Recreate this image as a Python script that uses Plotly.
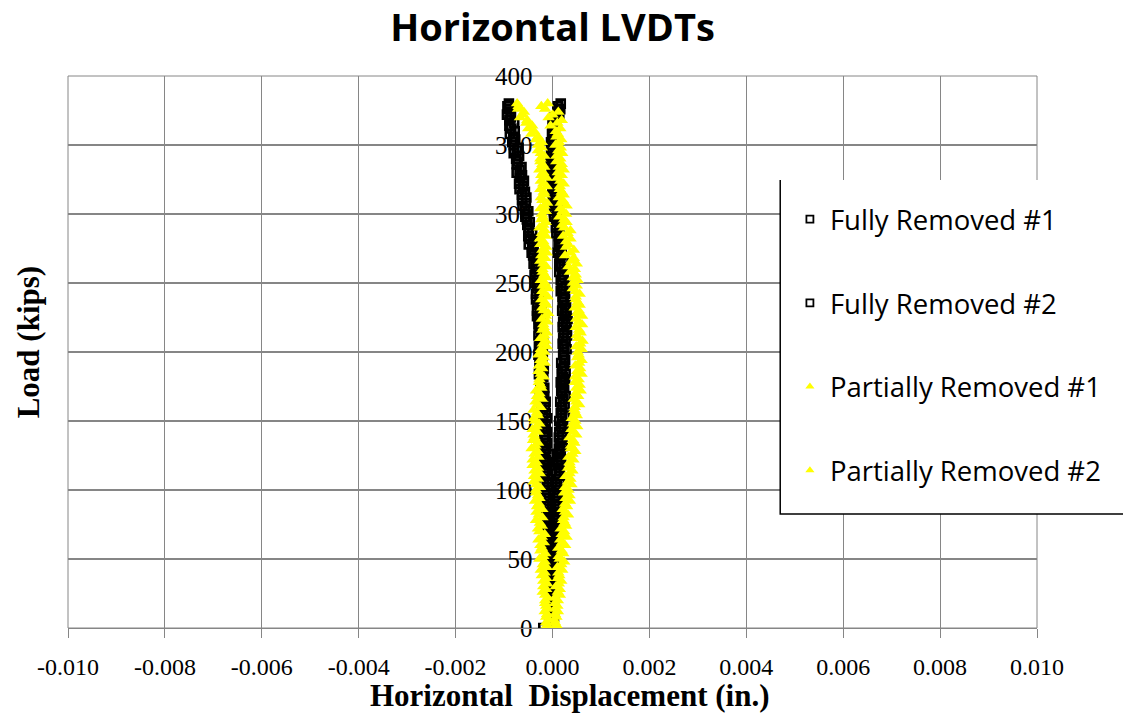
import numpy as np
import plotly.graph_objects as go

# Applied load levels (kips), shared by all four LVDT records
load_kips = [
    0, 2, 4, 6, 8, 10, 12, 14, 16, 18,
    20, 22, 24, 26, 28, 30, 32, 34, 36, 38,
    40, 42, 44, 46, 48, 50, 52, 54, 56, 58,
    60, 62, 64, 66, 68, 70, 72, 74, 76, 78,
    80, 82, 84, 86, 88, 90, 92, 94, 96, 98,
    100, 102, 104, 106, 108, 110, 112, 114, 116, 118,
    120, 122, 124, 126, 128, 130, 132, 134, 136, 138,
    140, 142, 144, 146, 148, 150, 152, 154, 156, 158,
    160, 162, 164, 166, 168, 170, 172, 174, 176, 178,
    180, 182, 184, 186, 188, 190, 192, 194, 196, 198,
    200, 202, 204, 206, 208, 210, 212, 214, 216, 218,
    220, 222, 224, 226, 228, 230, 232, 234, 236, 238,
    240, 242, 244, 246, 248, 250, 252, 254, 256, 258,
    260, 262, 264, 266, 268, 270, 272, 274, 276, 278,
    280, 282, 284, 286, 288, 290, 292, 294, 296, 298,
    300, 302, 304, 306, 308, 310, 312, 314, 316, 318,
    320, 322, 324, 326, 328, 330, 332, 334, 336, 338,
    340, 342, 344, 346, 348, 350, 352, 354, 356, 358,
    360, 362, 364, 366, 368, 370, 372, 374, 376, 378,
    380,
]

# Horizontal displacement readings, in units of 1e-4 in.
fully_removed_1 = [
    -1.9, -0.6, -0.2, -0.5, -0.3, -0.7, -0.4, -0.2, -0.6, -0.4,
    -0.5, -0.2, -0.6, -0.3, -0.1, -0.5, -0.6, -0.3, -0.4, -0.7,
    -0.1, -0.5, -0.7, -0.1, -0.6, -0.4, -0.8, -0.3, -0.5, -0.7,
    -0.7, -0.2, -0.7, -1.1, -0.6, -1.1, -0.4, -1.0, -0.6, -1.4,
    -0.8, -1.5, -0.6, -1.2, -0.8, -1.7, -1.1, -0.8, -1.5, -1.3,
    -1.5, -0.9, -1.8, -1.2, -0.8, -1.5, -1.7, -1.1, -1.3, -1.8,
    -0.9, -1.4, -1.7, -0.8, -1.6, -1.3, -1.9, -1.1, -1.4, -1.7,
    -1.6, -1.1, -1.6, -2.0, -1.4, -2.0, -1.1, -1.9, -1.4, -2.3,
    -1.6, -2.3, -1.4, -2.1, -1.7, -2.6, -2.0, -1.7, -2.5, -2.3,
    -2.5, -1.9, -2.8, -2.2, -1.8, -2.5, -2.7, -2.1, -2.4, -2.9,
    -2.0, -2.5, -2.8, -1.9, -2.6, -2.3, -2.9, -2.2, -2.4, -2.7,
    -2.9, -2.3, -2.8, -3.2, -2.6, -3.2, -2.3, -3.1, -2.5, -3.4,
    -2.7, -3.4, -2.5, -3.2, -2.8, -3.7, -3.2, -2.9, -3.7, -3.5,
    -3.4, -3.0, -3.9, -3.5, -3.2, -4.0, -4.3, -3.9, -4.2, -4.9,
    -4.0, -4.7, -5.0, -4.2, -4.9, -4.9, -5.2, -4.7, -5.3, -5.6,
    -5.6, -5.0, -5.7, -6.2, -5.5, -6.3, -5.4, -6.3, -5.7, -6.8,
    -6.1, -6.9, -5.9, -6.7, -6.3, -7.4, -6.8, -6.4, -7.4, -7.2,
    -7.5, -6.9, -8.0, -7.4, -7.0, -8.0, -8.3, -7.7, -8.1, -8.8,
    -7.8, -8.5, -8.9, -7.9, -8.9, -8.6, -9.4, -8.6, -9.0, -9.3,
    -9.0,
]
fully_removed_2 = [
    -0.1, 0.2, -0.2, 0.1, 0.3, 0.0, -0.1, 0.2, 0.1, -0.2,
    0.3, 0.1, -0.1, 0.4, 0.0, 0.2, -0.1, 0.3, 0.1, 0.0,
    0.0, 0.4, 0.1, -0.1, 0.3, 0.0, 0.5, 0.1, 0.4, 0.0,
    0.5, 0.0, 0.8, 0.3, 0.7, 0.0, 0.5, 0.9, 0.3, 0.5,
    0.4, 1.0, 0.2, 0.8, 1.3, 0.6, 0.5, 1.1, 0.9, 0.4,
    1.4, 1.0, 0.7, 1.6, 0.9, 1.3, 0.7, 1.5, 1.3, 1.1,
    1.2, 1.8, 1.4, 1.0, 1.7, 1.3, 2.1, 1.5, 2.0, 1.3,
    2.0, 1.4, 2.3, 1.7, 2.2, 1.4, 2.0, 2.6, 1.7, 2.0,
    1.9, 2.5, 1.6, 2.2, 2.7, 2.0, 1.8, 2.4, 2.2, 1.7,
    2.6, 2.2, 1.9, 2.7, 2.0, 2.4, 1.8, 2.6, 2.4, 2.2,
    2.3, 2.9, 2.4, 2.1, 2.7, 2.2, 3.0, 2.3, 2.9, 2.1,
    2.8, 2.2, 3.1, 2.5, 2.9, 2.0, 2.5, 2.8, 2.1, 2.3,
    2.1, 2.6, 1.7, 2.2, 2.7, 1.9, 1.7, 2.3, 2.0, 1.4,
    2.3, 1.8, 1.4, 2.3, 1.5, 1.8, 1.1, 1.9, 1.6, 1.3,
    1.3, 1.8, 1.3, 0.8, 1.4, 0.7, 1.5, 0.8, 1.2, 0.3,
    0.9, 0.3, 1.0, 0.5, 0.8, 0.0, 0.5, 0.7, 0.0, 0.2,
    0.0, 0.5, -0.2, 0.2, 0.6, 0.0, -0.2, 0.1, 0.0, -0.4,
    0.4, 0.0, -0.3, 0.5, -0.2, 0.2, -0.3, 0.3, 0.1, -0.1,
    0.0, 0.5, 0.2, 0.0, 0.7, 0.5, 1.4, 1.0, 1.6, 1.1,
    1.7,
]
partially_removed_1 = [
    -0.7, -1.1, -1.3, -0.8, -1.3, -1.1, -1.6, -1.1, -1.3, -1.5,
    -1.5, -1.0, -1.5, -2.0, -1.3, -1.9, -1.1, -1.9, -1.3, -2.2,
    -1.6, -2.4, -1.2, -2.0, -1.6, -2.7, -1.9, -1.5, -2.5, -2.2,
    -2.5, -1.8, -2.9, -2.2, -1.6, -2.7, -3.0, -2.2, -2.6, -3.4,
    -2.1, -2.8, -3.3, -2.1, -3.2, -2.8, -3.6, -2.7, -3.0, -3.4,
    -3.4, -2.6, -3.3, -3.9, -3.0, -3.8, -2.6, -3.7, -3.0, -4.1,
    -3.3, -4.1, -2.9, -3.7, -3.1, -4.3, -3.5, -3.0, -4.0, -3.7,
    -3.9, -3.1, -4.1, -3.3, -2.7, -3.6, -3.8, -3.0, -3.2, -3.9,
    -2.5, -3.1, -3.5, -2.2, -3.2, -2.7, -3.4, -2.3, -2.5, -2.8,
    -2.7, -1.8, -2.4, -2.9, -2.1, -2.8, -1.6, -2.5, -1.8, -2.9,
    -1.7, -2.4, -1.2, -2.0, -1.4, -2.5, -1.7, -1.2, -2.1, -1.8,
    -1.9, -1.1, -2.2, -1.4, -0.9, -1.8, -2.1, -1.3, -1.6, -2.3,
    -1.0, -1.7, -2.1, -0.9, -2.0, -1.6, -2.4, -1.3, -1.7, -2.0,
    -2.1, -1.3, -1.9, -2.5, -1.5, -2.3, -1.2, -2.1, -1.3, -2.5,
    -1.9, -2.6, -1.4, -2.2, -1.6, -2.7, -1.9, -1.4, -2.3, -2.0,
    -2.2, -1.4, -2.5, -1.7, -1.1, -2.1, -2.4, -1.6, -1.8, -2.5,
    -1.2, -1.9, -2.4, -1.2, -2.3, -1.9, -2.7, -1.7, -2.1, -2.5,
    -2.5, -1.7, -2.4, -3.0, -2.2, -3.0, -2.2, -3.4, -3.0, -4.4,
    -3.8, -5.0, -4.2, -5.4, -5.2, -6.7, -6.2, -5.9, -7.1, -7.0,
    -7.3,
]
partially_removed_2 = [
    0.3, 0.8, 0.5, 0.3, 0.8, 0.5, 1.1, 0.6, 1.0, 0.5,
    1.1, 0.5, 1.5, 1.1, 1.5, 0.7, 1.3, 1.8, 1.1, 1.4,
    1.2, 2.0, 1.0, 1.8, 2.4, 1.5, 1.3, 2.2, 1.9, 1.2,
    2.6, 2.0, 1.6, 2.9, 1.9, 2.4, 1.7, 2.8, 2.5, 2.2,
    2.3, 3.2, 2.6, 2.1, 3.0, 2.6, 3.6, 2.7, 3.5, 2.4,
    3.3, 2.6, 3.9, 3.2, 3.7, 2.7, 3.5, 4.1, 3.2, 3.6,
    3.5, 4.3, 3.3, 4.1, 4.7, 3.8, 3.8, 4.5, 4.2, 3.5,
    4.9, 4.3, 3.9, 5.1, 4.2, 4.7, 4.0, 5.0, 4.7, 4.5,
    4.6, 5.5, 4.9, 4.4, 5.3, 4.8, 5.8, 4.9, 5.6, 4.6,
    5.4, 4.7, 6.0, 5.1, 5.7, 4.7, 5.5, 6.0, 5.1, 5.4,
    5.2, 6.0, 4.9, 5.7, 6.2, 5.3, 5.0, 5.8, 5.5, 4.8,
    6.1, 5.4, 4.9, 6.1, 5.1, 5.4, 4.6, 5.6, 5.2, 4.8,
    4.8, 5.6, 4.8, 4.2, 5.0, 4.2, 5.2, 4.2, 4.8, 3.6,
    4.6, 3.3, 5.0, 3.9, 4.4, 2.6, 3.7, 4.4, 2.8, 3.2,
    2.8, 3.7, 2.2, 3.1, 3.7, 2.4, 2.0, 2.9, 2.4, 1.4,
    2.8, 2.1, 1.6, 2.9, 1.7, 2.1, 1.3, 2.3, 1.9, 1.5,
    1.5, 2.3, 1.6, 1.0, 1.9, 1.1, 2.3, 1.3, 1.9, 0.8,
    1.6, 0.8, 2.0, 1.2, 1.7, 0.6, 1.3, 1.8, 0.8, 1.1,
    0.7, 1.6, -0.4, 1.0, 1.9, -0.8, 0.0, 1.2, -1.5, -2.3,
    -1.0,
]

x_tick_vals = [-0.010, -0.008, -0.006, -0.004, -0.002, 0.000, 0.002, 0.004, 0.006, 0.008, 0.010]
x_tick_text = ["-0.010", "-0.008", "-0.006", "-0.004", "-0.002", "0.000",
               "0.002", "0.004", "0.006", "0.008", "0.010"]
y_tick_vals = [0, 50, 100, 150, 200, 250, 300, 350, 400]
y_tick_text = ["0", "50", "100", "150", "200", "250", "300", "350", "400"]

GRID = "#868686"
SERIF = "Liberation Serif, Times New Roman, serif"
SANS = "Open Sans, Noto Sans, sans-serif"

square = dict(symbol="square-open", color="black")
triangle = dict(symbol="triangle-up", color="#FFFF00", line=dict(width=0))

series = [
    ("Fully Removed #1", fully_removed_1, square, 8, 2.6),
    ("Fully Removed #2", fully_removed_2, square, 8, 2.6),
    ("Partially Removed #1", partially_removed_1, triangle, 11, 0),
    ("Partially Removed #2", partially_removed_2, triangle, 11, 0),
]

fig = go.Figure()
for i, (name, disp, style, size, lw) in enumerate(series):
    marker = dict(style, size=size)
    if lw:
        marker["line"] = dict(color="black", width=lw)
    fig.add_trace(go.Scatter(
        x=np.array(disp) * 1e-4,
        y=load_kips,
        mode="markers",
        name=name,
        legendgroup=f"g{i}",
        showlegend=False,
        marker=marker,
    ))

# Legend keys drawn with the smaller symbols of the chart key
for i, (name, disp, style, size, lw) in enumerate(series):
    key = dict(style, size=7 if lw else 8)
    if lw:
        key["line"] = dict(color="black", width=1.8)
    fig.add_trace(go.Scatter(
        x=[None], y=[None], mode="markers", name=name,
        legendgroup=f"g{i}", showlegend=True, marker=key,
    ))

fig.update_layout(
    width=1123,
    height=715,
    margin=dict(l=68, r=86, t=76, b=87),
    paper_bgcolor="white",
    plot_bgcolor="white",
    showlegend=True,
    title=dict(
        text="<b>Horizontal LVDTs</b>",
        x=0.5, xref="paper", xanchor="center",
        y=0.961, yref="container", yanchor="middle",
        font=dict(family=SANS, size=38, color="black"),
    ),
    legend=dict(
        x=0.745, y=0.785, xanchor="left", yanchor="top",
        bgcolor="rgba(0,0,0,0)", borderwidth=0,
        font=dict(family=SANS, size=27.5, color="black"),
        traceorder="grouped", tracegroupgap=45,
    ),
    xaxis=dict(
        range=[-0.010, 0.010],
        tickvals=x_tick_vals, ticktext=x_tick_text,
        showgrid=True, gridcolor=GRID, gridwidth=1,
        zeroline=True, zerolinecolor=GRID, zerolinewidth=1,
        ticks="outside", ticklen=9, tickcolor=GRID, tickwidth=1,
        ticklabelstandoff=8,
        showline=True, linecolor=GRID, linewidth=1,
        tickfont=dict(family=SERIF, size=24, color="black"),
    ),
    yaxis=dict(
        range=[0, 400],
        tickvals=y_tick_vals, ticktext=y_tick_text,
        anchor="free", position=0.5,
        showgrid=True, gridcolor=GRID, gridwidth=2,
        zeroline=False,
        ticks="", ticklabelstandoff=20,
        showline=False,
        layer="below traces",
        tickfont=dict(family=SERIF, size=25, color="black"),
    ),
    annotations=[
        dict(text="<b>Horizontal  Displacement (in.)</b>", xref="paper", yref="paper",
             x=0.5185, y=-0.1225, xanchor="center", yanchor="middle", showarrow=False,
             font=dict(family=SERIF, size=31, color="black")),
        dict(text="<b>Load (kips)</b>", xref="paper", yref="paper",
             x=-0.041, y=0.518, xanchor="center", yanchor="middle", showarrow=False,
             textangle=-90, font=dict(family=SERIF, size=31, color="black")),
    ],
    shapes=[
        # plot frame
        dict(type="rect", xref="paper", yref="paper", x0=0, x1=1, y0=0, y1=1,
             line=dict(color=GRID, width=1), layer="below"),
        # legend panel: white backing with left and bottom rule
        dict(type="rect", xref="paper", yref="paper", x0=0.735, x1=1.2, y0=0.2063, y1=0.8116,
             fillcolor="white", line=dict(width=0), layer="above"),
        dict(type="path", xref="paper", yref="paper",
             path="M 0.735 0.8116 L 0.735 0.2063 L 1.2 0.2063",
             line=dict(color="black", width=1.5), layer="above"),
    ],
)

fig.write_html("out.html")
